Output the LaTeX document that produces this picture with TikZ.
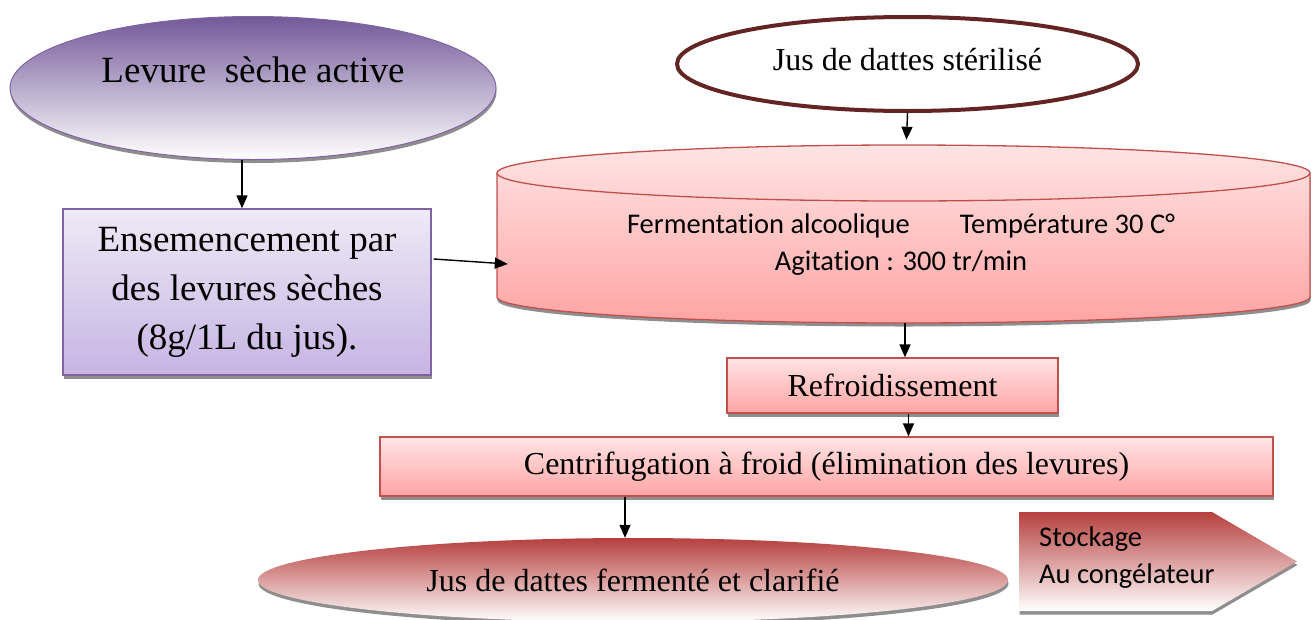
\documentclass[tikz,border=0pt]{standalone}
\usepackage{fontspec}
\setmainfont{Liberation Serif}
\newfontfamily\calib{Carlito}[Ligatures={NoCommon,NoRare,NoDiscretionary}]
\usetikzlibrary{shapes.geometric,arrows.meta,shadows,calc}

\definecolor{purpEdge}{HTML}{8064A2}
\definecolor{purpDark}{HTML}{735999}
\definecolor{purpLight}{HTML}{EEEAF6}
\definecolor{purpMid}{HTML}{C6B4E3}
\definecolor{redEdge}{HTML}{C0504D}
\definecolor{pinkTop}{HTML}{FFE4E4}
\definecolor{pinkBot}{HTML}{FFA4A4}
\definecolor{wine}{HTML}{B6403E}
\definecolor{brownEdge}{HTML}{632523}
\definecolor{shadowgray}{HTML}{8E8E8E}

\begin{document}
\begin{tikzpicture}[x=1pt,y=-1pt,
  arr/.style={-{Triangle[length=13pt,width=11pt]}, line width=1.4pt, black},
  dshadow/.style={drop shadow={shadow xshift=0.5pt, shadow yshift=-3.5pt, fill=shadowgray, opacity=1}},
  serifbig/.style={font=\fontsize{37}{49}\selectfont},
  serifmid/.style={font=\fontsize{32}{38}\selectfont},
  sansmid/.style={font=\calib\fontsize{28.5}{37}\selectfont},
  pinkbox/.style={rectangle, draw=redEdge, line width=1.3pt, top color=pinkTop, bottom color=pinkBot, inner sep=0, dshadow},
]
\useasboundingbox (0,0) rectangle (1315,619);

% --- yeast branch -------------------------------------------------------
\node[ellipse, minimum width=486, minimum height=143, inner sep=0,
      draw=purpEdge, line width=1pt, top color=purpDark, bottom color=white,
      dshadow, serifbig, text height=26pt, text depth=38pt]
  (lev) at (253,88) {Levure\ \ sèche active};

\node[rectangle, minimum width=368, minimum height=166, inner sep=0,
      draw=purpEdge, line width=1.3pt, top color=purpLight, bottom color=purpMid,
      dshadow, serifbig, align=center]
  (ens) at (247,292) {Ensemencement par\\des levures sèches\\(8g/1L du jus).};

% --- juice input --------------------------------------------------------
\node[ellipse, minimum width=461, minimum height=94, inner sep=0,
      draw=brownEdge, line width=4pt, fill=white, serifmid,
      text height=22pt, text depth=10pt]
  (jus) at (907.5,64) {Jus de dattes stérilisé};

% --- fermentation tank (cylinder) --------------------------------------
\fill[shadowgray, xshift=0.5pt, yshift=-3.5pt]
  (497,173) -- (497,297) arc[start angle=180, end angle=360, x radius=406.5pt, y radius=26pt]
  -- (1310,173) -- cycle;
\shade[top color=pinkTop, bottom color=pinkBot, draw=redEdge, line width=1.3pt]
  (497,173) -- (497,297) arc[start angle=180, end angle=360, x radius=406.5pt, y radius=26pt]
  -- (1310,173) arc[start angle=0, end angle=180, x radius=406.5pt, y radius=28pt] -- cycle;
\draw[redEdge, line width=1.3pt]
  (497,173) arc[start angle=180, end angle=360, x radius=406.5pt, y radius=28pt];
\node[rectangle, minimum width=813, minimum height=178, inner sep=0] (ferm) at (903.5,234) {};
\node[sansmid, align=center] (fermtxt) at (901,245)
  {Fermentat\kern0pt ion alcoolique\hspace{50pt}Température 30 C°\\Agitat\kern0pt ion : 300 tr/min};

% --- downstream steps --------------------------------------------------
\node[pinkbox, minimum width=331, minimum height=55, serifmid] (ref) at (892.5,385.5) {Refroidissement};
\node[pinkbox, minimum width=893, minimum height=59, serifmid] (cent) at (826.5,466.5)
  {Centrifugation à froid (élimination des levures)};

\node[ellipse, minimum width=750, minimum height=84, inner sep=0,
      top color=wine, bottom color=white, dshadow, serifmid]
  (bot) at (633,580) {Jus de dattes fermenté et clarifié};

% --- storage tag -------------------------------------------------------
\fill[shadowgray, xshift=0.5pt, yshift=-3.5pt]
  (1019,512) -- (1212,512) -- (1297,561.5) -- (1212,611) -- (1019,611) -- cycle;
\shade[top color=wine, bottom color=white]
  (1019,512) -- (1212,512) -- (1297,561.5) -- (1212,611) -- (1019,611) -- cycle;
\node[sansmid, align=left, anchor=west, inner sep=0] (stock) at (1039,558)
  {Stockage\\Au congélateur};

% --- connectors --------------------------------------------------------
\draw[arr] ([xshift=-5pt]ens.north |- lev.south) -- ([xshift=-5pt]ens.north);
\draw[arr] ([xshift=2pt,yshift=33pt]ens.east) -- ([xshift=11pt,yshift=-30pt]ferm.west);
\draw[arr] (jus.south) -- ([xshift=3pt,yshift=5pt]ferm.north);
\draw[arr] ([xshift=1.5pt]ferm.south) -- ([xshift=1.5pt]ferm.south |- ref.north);
\draw[arr] ([xshift=16pt]ref.south) -- ([xshift=16pt]ref.south |- cent.north);
\draw[arr] ([xshift=-8pt]bot.north |- cent.south) -- ([xshift=-8pt]bot.north);
\end{tikzpicture}
\end{document}
